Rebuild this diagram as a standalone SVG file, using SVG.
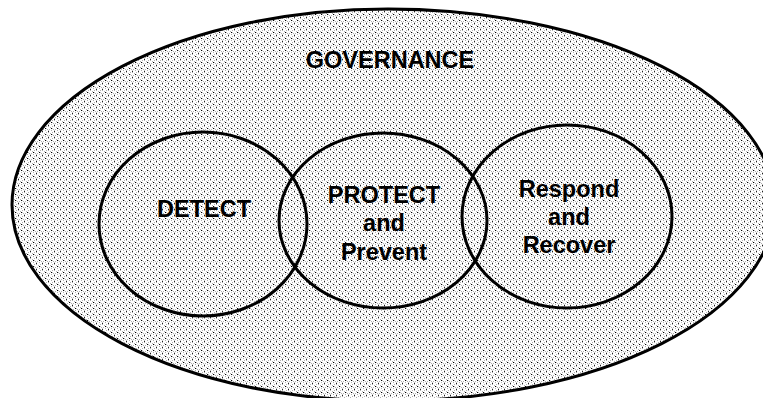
<svg xmlns="http://www.w3.org/2000/svg" width="763" height="398" viewBox="0 0 763 398">
  <defs>
    <!-- stippled halftone fill: grey and black dots on white -->
    <pattern id="stipple" width="6" height="6" patternUnits="userSpaceOnUse">
      <rect width="6" height="6" fill="#ffffff"/>
      <rect x="0" y="0" width="1" height="1" fill="#b0b0b0"/>
      <rect x="2" y="1" width="1" height="1" fill="#b0b0b0"/>
      <rect x="4" y="0" width="1" height="1" fill="#b0b0b0"/>
      <rect x="1" y="3" width="1" height="1" fill="#b0b0b0"/>
      <rect x="3" y="4" width="1" height="1" fill="#b0b0b0"/>
      <rect x="5" y="3" width="1" height="1" fill="#b0b0b0"/>
      <rect x="4" y="2" width="1" height="1" fill="#c4c4c4"/>
      <rect x="0" y="4" width="1" height="1" fill="#c4c4c4"/>
      <rect x="3" y="2" width="1" height="1" fill="#000000"/>
      <rect x="0" y="5" width="1" height="1" fill="#202020"/>
    </pattern>
  </defs>
  <style>
    .outline { fill: none; stroke: #000; stroke-width: 3; }
    .lbl { font-family: "Liberation Sans", Arial, sans-serif; font-weight: bold; font-size: 23.5px; fill: #000; text-anchor: middle; }
  </style>

  <!-- outer governance ellipse -->
  <g id="governance">
    <path d="M 12 205 A 376 196 0 0 1 388 9 A 387 196 0 0 1 775 205 A 387 196 0 0 1 388 401 A 376 196 0 0 1 12 205 Z"
          fill="url(#stipple)" stroke="#000" stroke-width="3"/>
    <text class="lbl" x="390" y="68">GOVERNANCE</text>
  </g>

  <!-- overlapping function circles -->
  <g id="detect">
    <ellipse class="outline" cx="203" cy="224" rx="104" ry="92"/>
    <text class="lbl" x="204" y="217">DETECT</text>
  </g>

  <g id="protect">
    <ellipse class="outline" cx="383" cy="220.5" rx="104" ry="87.5"/>
    <text class="lbl" x="384" y="203">PROTECT</text>
    <text class="lbl" x="384" y="231">and</text>
    <text class="lbl" x="384" y="260">Prevent</text>
  </g>

  <g id="respond">
    <ellipse class="outline" cx="567" cy="216.5" rx="105" ry="91.5"/>
    <text class="lbl" x="569" y="197">Respond</text>
    <text class="lbl" x="569" y="225">and</text>
    <text class="lbl" x="569" y="253">Recover</text>
  </g>
</svg>
